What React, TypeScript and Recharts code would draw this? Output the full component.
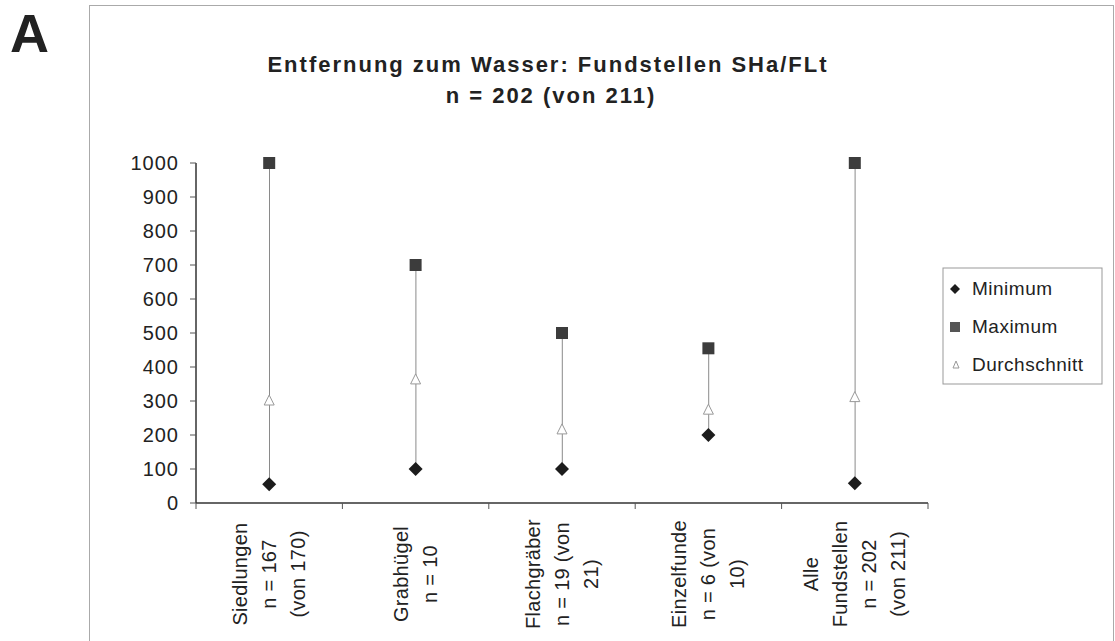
import React from "react";
import { ComposedChart, XAxis, YAxis, Scatter, Bar } from "recharts";

// category labels, one array of lines per category
const categoryLabels: string[][] = [
  ["Siedlungen", "n = 167", "(von 170)"],
  ["Grabhügel", "n = 10"],
  ["Flachgräber", "n = 19 (von", "21)"],
  ["Einzelfunde", "n = 6 (von", "10)"],
  ["Alle", "Fundstellen", "n = 202", "(von 211)"],
];
const minimum = [55, 100, 100, 200, 58];
const maximum = [1000, 700, 500, 455, 1000];
const average = [300, 362, 215, 273, 310];
const yTicks = [0, 100, 200, 300, 400, 500, 600, 700, 800, 900, 1000];

const FONT = "'Liberation Sans', Arial, sans-serif";

const data = categoryLabels.map((lines, i) => ({
  pos: i + 0.5,
  min: minimum[i],
  max: maximum[i],
  avg: average[i],
  range: [minimum[i], maximum[i]],
}));

// boundaries (integers) get tick marks, half positions get the labels
const xTicks: number[] = [];
for (let i = 0; i <= categoryLabels.length * 2; i++) xTicks.push(i / 2);

const CategoryTick = (props: any) => {
  const { x, y, payload } = props;
  const v = payload.value;
  if (Number.isInteger(v)) {
    return <line x1={x} y1={y} x2={x} y2={y + 6} stroke="#555" strokeWidth={1} />;
  }
  const lines = categoryLabels[Math.floor(v)];
  return (
    <g transform={`translate(${x},${y + 71}) rotate(-90)`}>
      {lines.map((t, i) => (
        <text
          key={i}
          x={0}
          y={(i - (lines.length - 1) / 2) * 29}
          textAnchor="middle"
          dominantBaseline="central"
          fontSize={20}
          letterSpacing={0.3}
          fontFamily={FONT}
          fill="#222"
        >
          {t}
        </text>
      ))}
    </g>
  );
};

const diamond = (p: any) => (
  <polygon
    points={`${p.cx},${p.cy - 7} ${p.cx + 7},${p.cy} ${p.cx},${p.cy + 7} ${p.cx - 7},${p.cy}`}
    fill="#1c1c1c"
  />
);
const square = (p: any) => (
  <rect x={p.cx - 6} y={p.cy - 6} width={12} height={12} fill="#3c3c3c" />
);
const triangle = (p: any) => (
  <polygon
    points={`${p.cx},${p.cy - 6} ${p.cx + 5},${p.cy + 4} ${p.cx - 5},${p.cy + 4}`}
    fill="#fff"
    stroke="#999"
    strokeWidth={1}
  />
);

export default function App() {
  return (
    <div style={{ position: "absolute", left: 0, top: 0, width: 1115, height: 641, background: "#fff", overflow: "hidden" }}>
      <div
        style={{
          position: "absolute",
          left: 89,
          top: 5,
          width: 1023,
          height: 700,
          border: "1px solid #aaa",
        }}
      />
      <div style={{ position: "absolute", left: 0, top: 0 }}>
        <ComposedChart
          width={1115}
          height={641}
          data={data}
          margin={{ top: 163, right: 187, bottom: 0, left: 130 }}
        >
          <XAxis
            dataKey="pos"
            type="number"
            domain={[0, categoryLabels.length]}
            ticks={xTicks}
            interval={0}
            tick={<CategoryTick />}
            tickLine={false}
            tickSize={0}
            tickMargin={0}
            height={138}
            axisLine={{ stroke: "#333", strokeWidth: 1.5 }}
          />
          <XAxis
            xAxisId="top"
            orientation="top"
            type="number"
            domain={[0, categoryLabels.length]}
            tick={false}
            tickLine={false}
            height={0}
            axisLine={{ stroke: "#666", strokeWidth: 1 }}
          />
          <YAxis
            domain={[0, 1000]}
            ticks={yTicks}
            interval={0}
            width={66}
            tickSize={6}
            tickMargin={11}
            tick={{ fontSize: 20, fontFamily: FONT, fill: "#222", letterSpacing: 1 }}
            tickLine={{ stroke: "#555" }}
            axisLine={{ stroke: "#333", strokeWidth: 1.5 }}
          />
          <YAxis
            yAxisId="right"
            orientation="right"
            domain={[0, 1000]}
            tick={false}
            tickLine={false}
            width={0}
            axisLine={{ stroke: "#666", strokeWidth: 1 }}
          />
          <Bar dataKey="range" barSize={1} fill="#8a8a8a" isAnimationActive={false} />
          <Scatter dataKey="avg" shape={triangle} isAnimationActive={false} />
          <Scatter dataKey="min" shape={diamond} isAnimationActive={false} />
          <Scatter dataKey="max" shape={square} isAnimationActive={false} />
        </ComposedChart>
      </div>
      <svg
        width={1115}
        height={641}
        style={{ position: "absolute", left: 0, top: 0, pointerEvents: "none" }}
        fontFamily={FONT}
      >
        <text x={10} y={52} fontSize={54} fontWeight="bold" fill="#222">
          A
        </text>
        <text x={548} y={72} fontSize={22} fontWeight="bold" fill="#222" textAnchor="middle" letterSpacing={2}>
          Entfernung zum Wasser: Fundstellen SHa/FLt
        </text>
        <text x={551} y={103} fontSize={22} fontWeight="bold" fill="#222" textAnchor="middle" letterSpacing={2}>
          n = 202 (von 211)
        </text>
        <rect x={943} y={268} width={159} height={116} fill="#fff" stroke="#999" strokeWidth={1} />
        <polygon points="955,284 960,289 955,294 950,289" fill="#1c1c1c" />
        <text x={972} y={295} fontSize={19} fill="#222" letterSpacing={0.5}>
          Minimum
        </text>
        <rect x={950} y={322} width={10} height={10} fill="#555" />
        <text x={972} y={333} fontSize={19} fill="#222" letterSpacing={0.5}>
          Maximum
        </text>
        <polygon points="956,361 959,368 953,368" fill="#fff" stroke="#999" strokeWidth={1} />
        <text x={972} y={371} fontSize={19} fill="#222" letterSpacing={0.5}>
          Durchschnitt
        </text>
      </svg>
    </div>
  );
}
